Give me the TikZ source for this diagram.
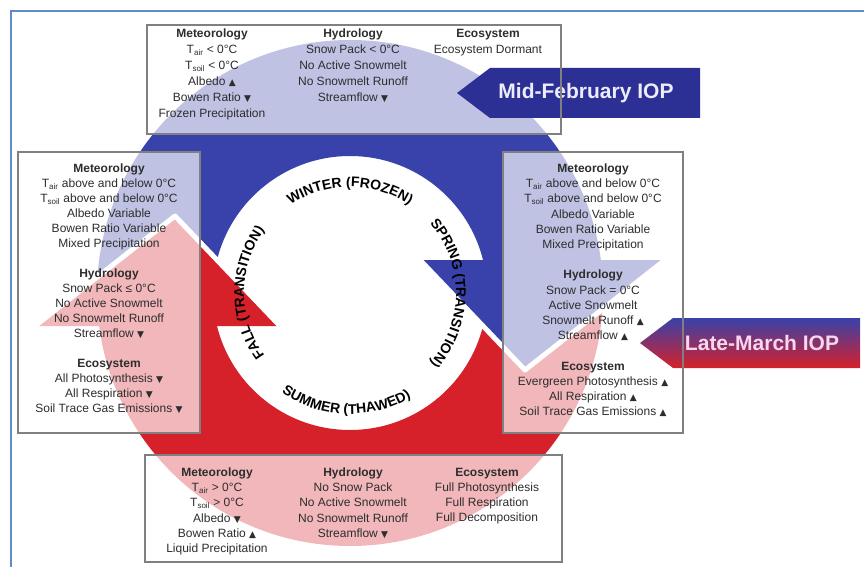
\documentclass[tikz,border=0pt]{standalone}
\usepackage{fontspec}
\setmainfont{Liberation Sans}
\newfontfamily\symfont{DejaVu Sans}
\usetikzlibrary{decorations.text}
\definecolor{ringblue}{RGB}{56,66,170}
\definecolor{ringred}{RGB}{214,32,42}
\definecolor{iopblue}{RGB}{44,48,148}
\definecolor{frameblue}{RGB}{96,138,200}
\definecolor{boxgray}{RGB}{128,128,128}
\definecolor{txtgray}{RGB}{45,45,45}
\definecolor{febtext}{RGB}{236,236,250}
\definecolor{martext}{RGB}{248,214,238}
\newcommand{\upa}{{\symfont\fontsize{9}{9}\selectfont ▲}}
\newcommand{\dna}{{\symfont\fontsize{9}{9}\selectfont ▼}}
\newcommand{\Tsub}[1]{T\textsubscript{#1}}
\newcommand{\ringfont}{\fontsize{14}{14}\selectfont\bfseries}
\begin{document}
\begin{tikzpicture}[x=1pt,y=-1pt,
  boxtext/.style={anchor=north,align=center,inner sep=0pt,text=txtgray,font=\fontsize{12}{15}\selectfont},
  veil/.style={fill=white,fill opacity=0.68},
  infobox/.style={draw=boxgray,line width=1.1pt},
  gap/.style={white,line width=5pt,line join=round},
  ioplabel/.style={inner sep=0pt,font=\fontsize{21}{21}\selectfont\bfseries},
  ringlabel/.style={decorate,decoration={text along path,text align=center,text={|\ringfont|#1}}}]
	\useasboundingbox (0,0) rectangle (864,567);
	\coordinate (O) at (350,293);
	% 画边框
	\draw[frameblue,line width=2pt] (11,567) -- (11,11) -- (864,11);
	% 画蓝色半环
	\begin{scope}
		\clip (0,0) -- (864,0) -- (864,260) -- (350,260) -- (280,326) -- (175,216) -- (35,326) -- (0,326) -- cycle;
		\fill[ringblue,even odd rule] (O) circle[radius=253] (O) circle[radius=137];
	\end{scope}
	\fill[ringblue] (420,260) -- (665,260) -- (525,370) -- cycle;
	% 画红色半环
	\begin{scope}
		\clip (0,567) -- (0,326) -- (350,326) -- (420,260) -- (525,370) -- (665,260) -- (864,260) -- (864,567) -- cycle;
		\fill[ringred,even odd rule] (O) circle[radius=253] (O) circle[radius=137];
	\end{scope}
	\fill[ringred] (280,326) -- (35,326) -- (175,216) -- cycle;
	% 画缝隙
	\draw[gap] (420,260) -- (525,370) -- (665,260);
	\draw[gap] (280,326) -- (175,216) -- (35,326);
	% 画季节标签
	\path[ringlabel={WINTER (FROZEN)}] (O) ++(-140:106) arc[start angle=-140,end angle=-40,radius=106];
	\path[ringlabel={SPRING (TRANSITION)}] (O) ++(-60:106) arc[start angle=-60,end angle=60,radius=106];
	\path[ringlabel={SUMMER (THAWED)}] (O) ++(142:121) arc[start angle=142,end angle=42,radius=121];
	\path[ringlabel={FALL (TRANSITION)}] (O) ++(130:106) arc[start angle=130,end angle=230,radius=106];
	% 画方框底色
	\foreach \xa/\ya/\xb/\yb in {147/25/561/134, 18/152/200/433, 503/152/683/433, 145/455/562/562}
		\fill[veil] (\xa,\ya) rectangle (\xb,\yb);
	% 冬季
	\node[boxtext,font=\fontsize{12}{16}\selectfont] (wmet) at (212,28.6) {\textbf{Meteorology}\\ \Tsub{air} < 0°C\\ \Tsub{soil} < 0°C\\ Albedo \upa\\ Bowen Ratio \dna\\ Frozen Precipitation};
	\node[boxtext,font=\fontsize{12}{16}\selectfont] (whyd) at (353,28.6) {\textbf{Hydrology}\\ Snow Pack < 0°C\\ No Active Snowmelt\\ No Snowmelt Runoff\\ Streamflow \dna};
	\node[boxtext,font=\fontsize{12}{16}\selectfont] (weco) at (488,28.6) {\textbf{Ecosystem}\\ Ecosystem Dormant};
	% 秋季
	\node[boxtext] (fallinfo) at (109,163.5) {\textbf{Meteorology}\\ \Tsub{air} above and below 0°C\\ \Tsub{soil} above and below 0°C\\ Albedo Variable\\ Bowen Ratio Variable\\ Mixed Precipitation\\[15pt]
		\textbf{Hydrology}\\ Snow Pack ≤ 0°C\\ No Active Snowmelt\\ No Snowmelt Runoff\\ Streamflow \dna\\[15pt]
		\textbf{Ecosystem}\\ All Photosynthesis \dna\\ All Respiration \dna\\ Soil Trace Gas Emissions \dna};
	% 春季
	\node[boxtext,font=\fontsize{12}{15.25}\selectfont] (springinfo) at (593,163.5) {\textbf{Meteorology}\\ \Tsub{air} above and below 0°C\\ \Tsub{soil} above and below 0°C\\ Albedo Variable\\ Bowen Ratio Variable\\ Mixed Precipitation\\[15pt]
		\textbf{Hydrology}\\ Snow Pack = 0°C\\ Active Snowmelt\\ Snowmelt Runoff \upa\\ Streamflow \upa\\[15pt]
		\textbf{Ecosystem}\\ Evergreen Photosynthesis \upa\\ All Respiration \upa\\ Soil Trace Gas Emissions \upa};
	% 夏季
	\node[boxtext,font=\fontsize{12}{15.2}\selectfont] (smet) at (217,467.6) {\textbf{Meteorology}\\ \Tsub{air} > 0°C\\ \Tsub{soil} > 0°C\\ Albedo \dna\\ Bowen Ratio \upa\\ Liquid Precipitation};
	\node[boxtext,font=\fontsize{12}{15.2}\selectfont] (shyd) at (353,467.6) {\textbf{Hydrology}\\ No Snow Pack\\ No Active Snowmelt\\ No Snowmelt Runoff\\ Streamflow \dna};
	\node[boxtext,font=\fontsize{12}{15.2}\selectfont] (seco) at (487,467.6) {\textbf{Ecosystem}\\ Full Photosynthesis\\ Full Respiration\\ Full Decomposition};
	% 画观测期箭头
	\fill[iopblue] (457,93) -- (490,68) -- (700,68) -- (700,118) -- (490,118) -- cycle;
	\node[ioplabel,text=febtext] (febiop) at (586,93) {Mid-February IOP};
	\shade[top color=ringblue,bottom color=ringred] (640,343) -- (673,318) -- (860,318) -- (860,368) -- (673,368) -- cycle;
	\node[ioplabel,text=martext] (mariop) at (762,343) {Late-March IOP};
	% 画方框边线
	\foreach \xa/\ya/\xb/\yb in {147/25/561/134, 18/152/200/433, 503/152/683/433, 145/455/562/562}
		\draw[infobox] (\xa,\ya) rectangle (\xb,\yb);
\end{tikzpicture}
\end{document}
